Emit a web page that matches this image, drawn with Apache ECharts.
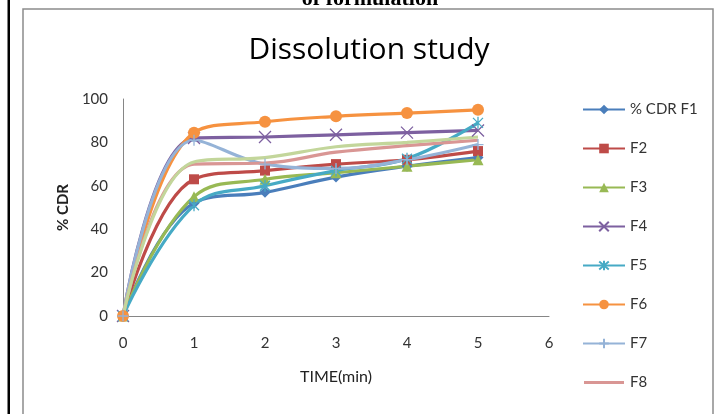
<!DOCTYPE html>
<html>
<head>
<meta charset="utf-8">
<script src="https://cdn.jsdelivr.net/npm/echarts@6/dist/echarts.min.js"></script>
<style>
html,body{margin:0;padding:0;background:#fff;}
#chart{width:716px;height:414px;}
</style>
</head>
<body>
<div id="chart"></div>
<script>
// ---- data ----
var timeMin = [0, 1, 2, 3, 4, 5];
var seriesNames = ['% CDR F1', 'F2', 'F3', 'F4', 'F5', 'F6', 'F7', 'F8', 'F9'];
var F1 = [0, 52, 57, 64, 69, 73];
var F2 = [0, 63, 67, 70, 72, 76];
var F3 = [0, 55, 63, 66, 69, 72];
var F4 = [0, 82, 82.5, 83.5, 84.5, 85.5];
var F5 = [0, 51, 60, 67, 72.5, 89];
var F6 = [0, 84.5, 89.5, 92, 93.5, 95];
var F7 = [0, 81, 70, 68, 72, 79];
var F8 = [0, 70, 70.5, 75.5, 78.5, 81];
var F9 = [0, 71, 73, 78, 80, 82.5];
var legendNames = ['% CDR F1', 'F2', 'F3', 'F4', 'F5', 'F6', 'F7', 'F8'];
var yTicks = [0, 20, 40, 60, 80, 100];

var values = [F1, F2, F3, F4, F5, F6, F7, F8, F9];
var colors = ['#4A7EBB', '#BE4B48', '#98B954', '#7D60A0', '#46AAC5', '#F69240', '#95B3D7', '#D99694', '#C3D69B'];
var symbols = [
  'diamond', 'rect', 'triangle',
  'path://M0 0L10 10M10 0L0 10',
  'path://M0 0L10 10M10 0L0 10M5 -1L5 11',
  'circle',
  'path://M5 0L5 10M0 5L10 5',
  'none', 'none'
];
var sizes = [11, 10, 11, 12, 12, 12, 11, 0, 0];

var chart = echarts.init(document.getElementById('chart'), null, {renderer: 'canvas'});

var series = values.map(function (v, i) {
  var isPath = symbols[i].indexOf('path://') === 0;
  return {
    name: seriesNames[i],
    type: 'line',
    smooth: 0.4,
    data: timeMin.map(function (t, k) { return [t, v[k]]; }),
    symbol: symbols[i],
    symbolSize: sizes[i],
    showSymbol: symbols[i] !== 'none',
    symbolKeepAspect: true,
    lineStyle: {color: colors[i], width: 3.2},
    itemStyle: isPath ? {color: colors[i], borderColor: colors[i], borderWidth: 1.3}
                      : {color: colors[i], borderColor: colors[i], borderWidth: 0},
    emphasis: {disabled: true},
    animation: false
  };
});

var font = 'Lato, "Open Sans", sans-serif';

var legendData = legendNames.map(function (n) {
  if (n === 'F8') {
    return {name: n, icon: 'path://M0 0M0 4.5L40 4.5L40 7.5L0 7.5ZM40 12'};
  }
  return {name: n};
});

chart.setOption({
  backgroundColor: '#fff',
  animation: false,
  grid: {left: 123, right: 167, top: 99, bottom: 98, containLabel: false},
  xAxis: {
    type: 'value', min: 0, max: 6, interval: 1,
    name: 'TIME(min)', nameLocation: 'middle', nameGap: 53,
    nameTextStyle: {fontFamily: font, fontSize: 16, color: '#222'},
    axisLine: {show: true, lineStyle: {color: '#868686', width: 1}},
    axisTick: {show: false},
    splitLine: {show: false},
    axisLabel: {fontFamily: font, fontSize: 15, color: '#333', margin: 20}
  },
  yAxis: {
    type: 'value', min: yTicks[0], max: yTicks[yTicks.length - 1], interval: yTicks[1] - yTicks[0],
    name: '% CDR', nameLocation: 'middle', nameGap: 52, nameRotate: 90,
    nameTextStyle: {fontFamily: font, fontSize: 15, fontWeight: 'bold', color: '#222'},
    axisLine: {show: true, lineStyle: {color: '#868686', width: 1}},
    axisTick: {show: false},
    splitLine: {show: false},
    axisLabel: {fontFamily: font, fontSize: 15, color: '#333', margin: 15}
  },
  legend: {
    data: legendData,
    orient: 'vertical',
    left: 577, top: 97,
    itemWidth: 42, itemHeight: 12, itemGap: 24,
    textStyle: {fontFamily: font, fontSize: 15, color: '#333'},
    selectedMode: false
  },
  graphic: [
    {type: 'rect', shape: {x: 23, y: 9, width: 690, height: 420}, style: {fill: 'none', stroke: '#8c8c8c', lineWidth: 1.5}, silent: true},
    {type: 'rect', shape: {x: 7.5, y: 0, width: 2.5, height: 414}, style: {fill: '#000'}, silent: true},
    {type: 'text', x: 370, y: 10, style: {text: 'of formulation', font: 'bold 22px "Liberation Serif", serif', fill: '#000', align: 'center', verticalAlign: 'bottom'}, silent: true},
    {type: 'text', x: 369, y: 50, style: {text: 'Dissolution study', font: '500 30px "Open Sans", sans-serif', fill: '#000', align: 'center', verticalAlign: 'middle'}, silent: true}
  ],
  series: series
});
</script>
</body>
</html>
